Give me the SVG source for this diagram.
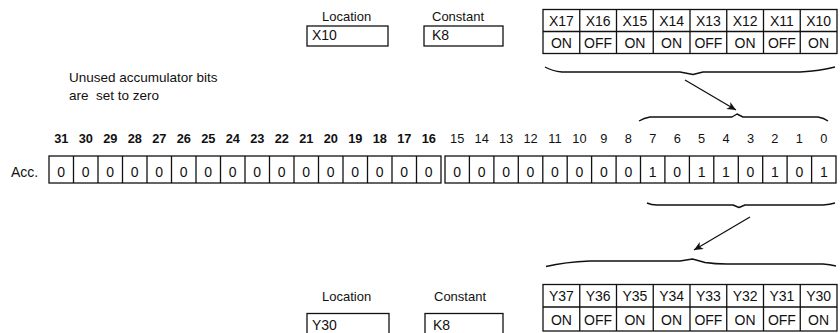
<svg xmlns="http://www.w3.org/2000/svg" width="840" height="333" viewBox="0 0 840 333">
<style>
text{font-family:"Liberation Sans",Arial,sans-serif;fill:#111}
.lbl{font-size:13px}
.cell{font-size:14px;text-anchor:middle}
.bit{font-size:12.8px;text-anchor:middle}
.bb{font-weight:bold}
.box{fill:#fff;stroke:#111;stroke-width:1.3}
.ln{stroke:#111;stroke-width:1.3;fill:none}
.br{stroke:#111;stroke-width:1.4;fill:none;stroke-linejoin:round}
</style>
<defs>
<marker id="ah" markerWidth="10" markerHeight="8" refX="9" refY="4" orient="auto" markerUnits="userSpaceOnUse">
<path d="M0,0 L9,4 L0,8 L2.5,4 Z" fill="#111"/>
</marker>
</defs>
<rect width="840" height="333" fill="#fff"/>

<g id="loc-top">
<text class="lbl" x="322" y="20.5">Location</text>
<rect class="box" x="307" y="26" width="81" height="20"/>
<text class="lbl" x="312" y="39.5" style="font-size:14px">X10</text>
</g>
<g id="const-top">
<text class="lbl" x="432" y="20.5">Constant</text>
<rect class="box" x="424" y="26" width="79" height="20"/>
<text class="lbl" x="432" y="39.5" style="font-size:14px">K8</text>
</g>

<g id="x-table">
<rect class="box" x="543" y="9.5" width="294" height="44"/>
<path class="ln" d="M543,31.5H837M579.75,9.5V53.5M616.5,9.5V53.5M653.25,9.5V53.5M690,9.5V53.5M726.75,9.5V53.5M763.5,9.5V53.5M800.25,9.5V53.5"/>
<text class="cell" x="561.4" y="25.5">X17</text>
<text class="cell" x="598.1" y="25.5">X16</text>
<text class="cell" x="634.9" y="25.5">X15</text>
<text class="cell" x="671.6" y="25.5">X14</text>
<text class="cell" x="708.4" y="25.5">X13</text>
<text class="cell" x="745.1" y="25.5">X12</text>
<text class="cell" x="781.9" y="25.5">X11</text>
<text class="cell" x="818.6" y="25.5">X10</text>
<text class="cell" x="561.4" y="48">ON</text>
<text class="cell" x="598.1" y="48">OFF</text>
<text class="cell" x="634.9" y="48">ON</text>
<text class="cell" x="671.6" y="48">ON</text>
<text class="cell" x="708.4" y="48">OFF</text>
<text class="cell" x="745.1" y="48">ON</text>
<text class="cell" x="781.9" y="48">OFF</text>
<text class="cell" x="818.6" y="48">ON</text>
</g>

<g id="note">
<text class="lbl" x="69" y="82" style="font-size:13.5px">Unused accumulator bits</text>
<text class="lbl" x="69" y="99.5" style="font-size:13.5px" xml:space="preserve">are  set to zero</text>
</g>

<g id="connectors">
<path class="br" d="M545,67 Q552,71 562,72 L680,72 L693,74.5 L703,72 L800,72 Q820,71 835,67"/>
<line class="ln" x1="685" y1="80" x2="736" y2="110" marker-end="url(#ah)"/>
<path class="br" d="M639,121 Q644,118 650,117 L732,117 L737,114 L743,117 L818,117 Q824,118 828,121"/>
<path class="br" d="M647,203 Q651,205 657,205 L733,205 L739,207.5 L745,205 L823,205 Q830,204.5 835,203"/>
<line class="ln" x1="750" y1="217" x2="694" y2="250" marker-end="url(#ah)"/>
<path class="br" d="M546,266.5 Q565,262 590,261 L680,261 L692.5,259 L705,262.5 Q715,264 727,264 L823,264 Q830,264.5 836,266"/>
</g>

<g id="acc">
<text class="lbl" x="11" y="176.5" style="font-size:14px">Acc.</text>
<text class="bit bb" x="61.25" y="143">31</text>
<text class="bit bb" x="85.75" y="143">30</text>
<text class="bit bb" x="110.25" y="143">29</text>
<text class="bit bb" x="134.75" y="143">28</text>
<text class="bit bb" x="159.25" y="143">27</text>
<text class="bit bb" x="183.75" y="143">26</text>
<text class="bit bb" x="208.25" y="143">25</text>
<text class="bit bb" x="232.75" y="143">24</text>
<text class="bit bb" x="257.25" y="143">23</text>
<text class="bit bb" x="281.75" y="143">22</text>
<text class="bit bb" x="306.25" y="143">21</text>
<text class="bit bb" x="330.75" y="143">20</text>
<text class="bit bb" x="355.25" y="143">19</text>
<text class="bit bb" x="379.75" y="143">18</text>
<text class="bit bb" x="404.25" y="143">17</text>
<text class="bit bb" x="428.75" y="143">16</text>
<text class="bit" x="457.2" y="143">15</text>
<text class="bit" x="481.7" y="143">14</text>
<text class="bit" x="506.1" y="143">13</text>
<text class="bit" x="530.5" y="143">12</text>
<text class="bit" x="555.0" y="143">11</text>
<text class="bit" x="579.4" y="143">10</text>
<text class="bit" x="603.8" y="143">9</text>
<text class="bit" x="628.3" y="143">8</text>
<text class="bit" x="652.7" y="143">7</text>
<text class="bit" x="677.2" y="143">6</text>
<text class="bit" x="701.6" y="143">5</text>
<text class="bit" x="726.0" y="143">4</text>
<text class="bit" x="750.5" y="143">3</text>
<text class="bit" x="774.9" y="143">2</text>
<text class="bit" x="799.3" y="143">1</text>
<text class="bit" x="823.8" y="143">0</text>
<rect class="box" x="49" y="156" width="392" height="27"/>
<path class="ln" d="M73.5,156V183M98,156V183M122.5,156V183M147,156V183M171.5,156V183M196,156V183M220.5,156V183M245,156V183M269.5,156V183M294,156V183M318.5,156V183M343,156V183M367.5,156V183M392,156V183M416.5,156V183"/>
<rect class="box" x="445" y="156" width="391" height="27"/>
<path class="ln" d="M469.4,156V183M493.9,156V183M518.3,156V183M542.8,156V183M567.2,156V183M591.6,156V183M616.1,156V183M640.5,156V183M664.9,156V183M689.4,156V183M713.8,156V183M738.3,156V183M762.7,156V183M787.1,156V183M811.6,156V183"/>
<text class="cell" x="61.25" y="176.5">0</text>
<text class="cell" x="85.75" y="176.5">0</text>
<text class="cell" x="110.25" y="176.5">0</text>
<text class="cell" x="134.75" y="176.5">0</text>
<text class="cell" x="159.25" y="176.5">0</text>
<text class="cell" x="183.75" y="176.5">0</text>
<text class="cell" x="208.25" y="176.5">0</text>
<text class="cell" x="232.75" y="176.5">0</text>
<text class="cell" x="257.25" y="176.5">0</text>
<text class="cell" x="281.75" y="176.5">0</text>
<text class="cell" x="306.25" y="176.5">0</text>
<text class="cell" x="330.75" y="176.5">0</text>
<text class="cell" x="355.25" y="176.5">0</text>
<text class="cell" x="379.75" y="176.5">0</text>
<text class="cell" x="404.25" y="176.5">0</text>
<text class="cell" x="428.75" y="176.5">0</text>
<text class="cell" x="457.2" y="176.5">0</text>
<text class="cell" x="481.7" y="176.5">0</text>
<text class="cell" x="506.1" y="176.5">0</text>
<text class="cell" x="530.5" y="176.5">0</text>
<text class="cell" x="555.0" y="176.5">0</text>
<text class="cell" x="579.4" y="176.5">0</text>
<text class="cell" x="603.8" y="176.5">0</text>
<text class="cell" x="628.3" y="176.5">0</text>
<text class="cell" x="652.7" y="176.5">1</text>
<text class="cell" x="677.2" y="176.5">0</text>
<text class="cell" x="701.6" y="176.5">1</text>
<text class="cell" x="726.0" y="176.5">1</text>
<text class="cell" x="750.5" y="176.5">0</text>
<text class="cell" x="774.9" y="176.5">1</text>
<text class="cell" x="799.3" y="176.5">0</text>
<text class="cell" x="823.8" y="176.5">1</text>
</g>

<g id="loc-bottom">
<text class="lbl" x="322" y="301">Location</text>
<rect class="box" x="307" y="313.5" width="82" height="25"/>
<text class="lbl" x="312" y="329.5" style="font-size:14px">Y30</text>
</g>
<g id="const-bottom">
<text class="lbl" x="434" y="300.5">Constant</text>
<rect class="box" x="425" y="313.5" width="78" height="25"/>
<text class="lbl" x="433" y="329.5" style="font-size:14px">K8</text>
</g>

<g id="y-table">
<rect class="box" x="543" y="284.5" width="294" height="46.5"/>
<path class="ln" d="M543,307H837M579.75,284.5V331M616.5,284.5V331M653.25,284.5V331M690,284.5V331M726.75,284.5V331M763.5,284.5V331M800.25,284.5V331"/>
<text class="cell" x="561.4" y="300.5">Y37</text>
<text class="cell" x="598.1" y="300.5">Y36</text>
<text class="cell" x="634.9" y="300.5">Y35</text>
<text class="cell" x="671.6" y="300.5">Y34</text>
<text class="cell" x="708.4" y="300.5">Y33</text>
<text class="cell" x="745.1" y="300.5">Y32</text>
<text class="cell" x="781.9" y="300.5">Y31</text>
<text class="cell" x="818.6" y="300.5">Y30</text>
<text class="cell" x="561.4" y="324.5">ON</text>
<text class="cell" x="598.1" y="324.5">OFF</text>
<text class="cell" x="634.9" y="324.5">ON</text>
<text class="cell" x="671.6" y="324.5">ON</text>
<text class="cell" x="708.4" y="324.5">OFF</text>
<text class="cell" x="745.1" y="324.5">ON</text>
<text class="cell" x="781.9" y="324.5">OFF</text>
<text class="cell" x="818.6" y="324.5">ON</text>
</g>
</svg>
